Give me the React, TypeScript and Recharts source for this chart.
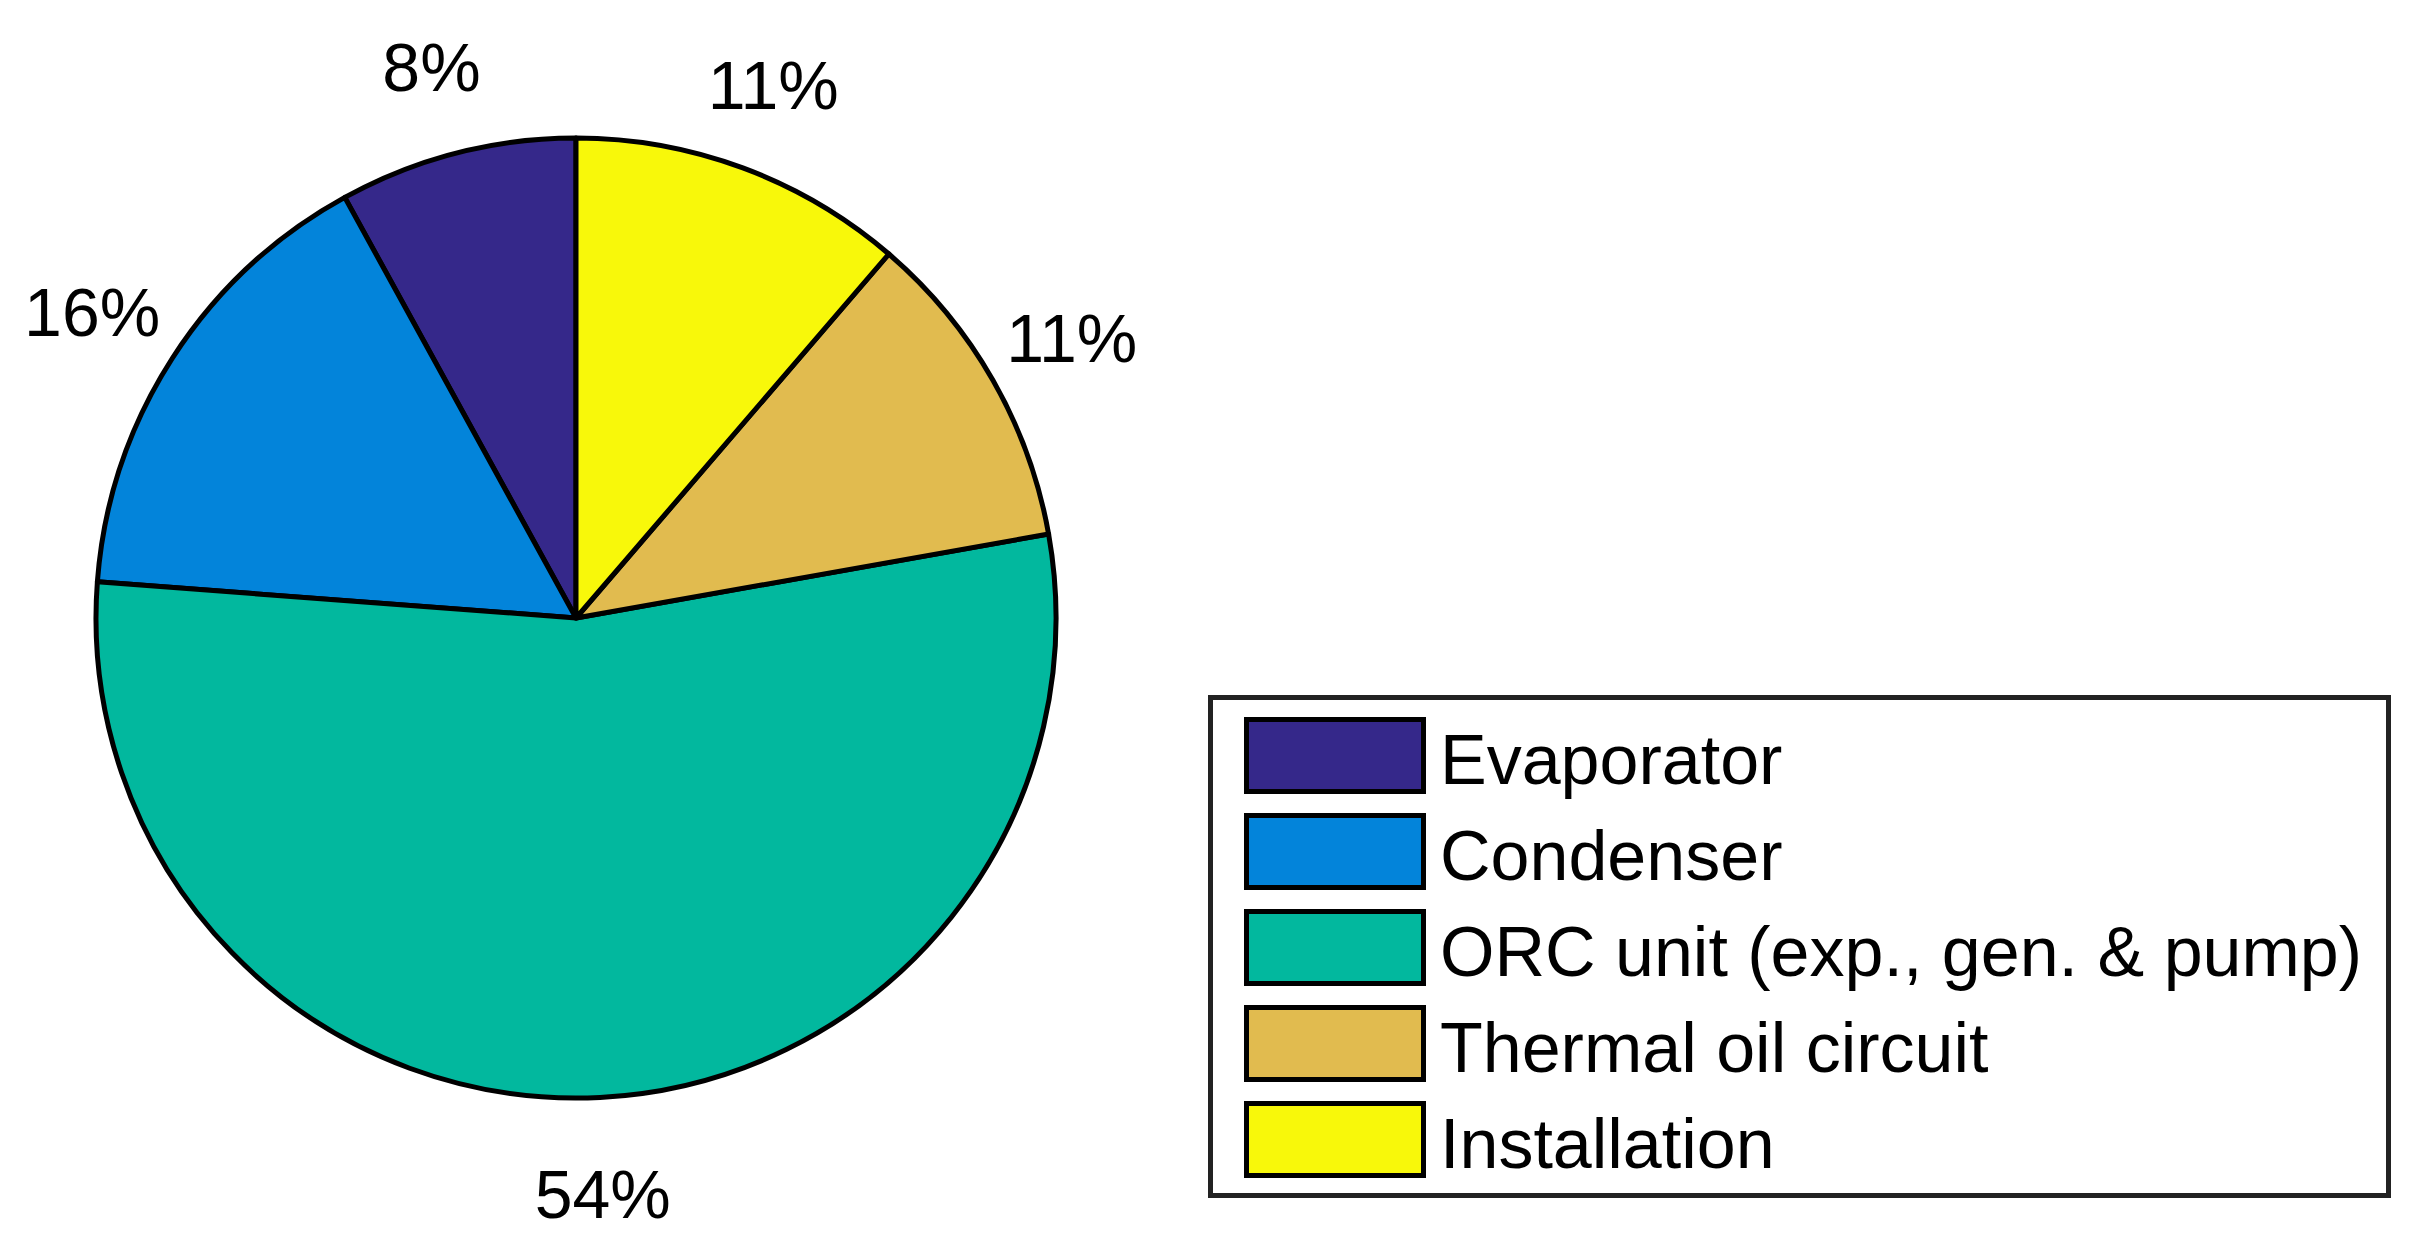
import React from "react";
import { PieChart, Pie, Cell, Legend } from "recharts";

const categories = [
  "Evaporator",
  "Condenser",
  "ORC unit (exp., gen. & pump)",
  "Thermal oil circuit",
  "Installation",
];
const shares = [8.0, 15.8, 54.0, 10.9, 11.3];
const sliceLabels = ["8%", "16%", "54%", "11%", "11%"];
const colors = ["#35288A", "#0384DA", "#02B89E", "#E1BB4F", "#F8F80A"];

const data = categories.map((name, i) => ({ name, value: shares[i], label: sliceLabels[i] }));

const FONT = "'Liberation Sans', Arial, Helvetica, sans-serif";
const RAD = Math.PI / 180;

const renderLabel = (props: any) => {
  const { cx, cy, midAngle, outerRadius, index } = props;
  const r = outerRadius + 93;
  const x = cx + r * Math.cos(-midAngle * RAD) - 2;
  const y = cy + r * Math.sin(-midAngle * RAD) + 4;
  return (
    <text
      x={x}
      y={y}
      textAnchor="middle"
      dominantBaseline="central"
      fontFamily={FONT}
      fontSize={68}
      fill="#000"
    >
      {sliceLabels[index]}
    </text>
  );
};

const LegendBox = () => (
  <div
    style={{
      position: "relative",
      width: 1183,
      height: 503,
      border: "5px solid #222222",
      boxSizing: "border-box",
      background: "#fff",
    }}
  >
    {categories.map((name, i) => (
      <div key={name}>
        <div
          style={{
            position: "absolute",
            left: 31,
            top: 17 + i * 96,
            width: 182,
            height: 77,
            background: colors[i],
            border: "5px solid #000",
            boxSizing: "border-box",
          }}
        />
        <div
          style={{
            position: "absolute",
            left: 227,
            top: 15 + i * 96,
            height: 90,
            lineHeight: "90px",
            fontFamily: FONT,
            fontSize: 70,
            color: "#000",
            whiteSpace: "nowrap",
          }}
        >
          {name}
        </div>
      </div>
    ))}
  </div>
);

export default function App() {
  return (
    <div
      style={{
        position: "absolute",
        left: 0,
        top: 0,
        width: 2414,
        height: 1245,
        overflow: "hidden",
        background: "#fff",
      }}
    >
      <PieChart width={2414} height={1245} margin={{ top: 0, left: 0, right: 0, bottom: 0 }}>
        <Pie
          data={data}
          dataKey="value"
          nameKey="name"
          cx={576}
          cy={618}
          outerRadius={480}
          startAngle={90}
          endAngle={450}
          stroke="#000"
          strokeWidth={5}
          strokeLinejoin="round"
          label={renderLabel}
          labelLine={false}
          isAnimationActive={false}
        >
          {data.map((d, i) => (
            <Cell key={d.name} fill={colors[i]} />
          ))}
        </Pie>
        <Legend
          content={() => <LegendBox />}
          wrapperStyle={{ position: "absolute", left: 1208, top: 695, width: 1183, height: 503 }}
        />
      </PieChart>
    </div>
  );
}
